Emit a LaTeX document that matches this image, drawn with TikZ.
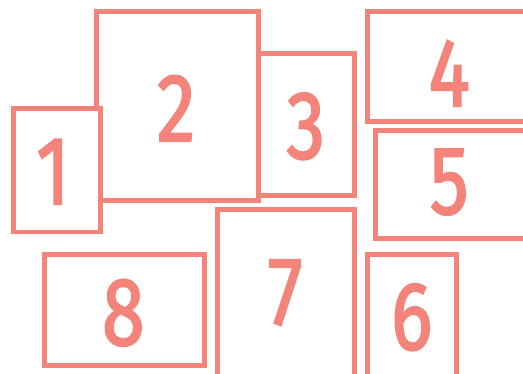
\documentclass[tikz,border=0pt]{standalone}
\usepackage{fontspec}
\setmainfont{Fira Sans}
\newfontfamily\digfont[FakeBold=2.2]{Fira Sans}
\definecolor{salmon}{RGB}{244,132,122}
\tikzset{
  boxst/.style={draw=salmon, fill=white, line width=4.8bp, inner sep=0pt, outer sep=0pt},
  digit/.style={text=salmon, inner sep=0pt, font=\digfont\fontsize{97}{97}\selectfont, xscale=0.8}
}
\begin{document}
\begin{tikzpicture}[x=1bp,y=-1bp]
\useasboundingbox (0,0) rectangle (523,373);
\draw[boxst] (258,53.8) rectangle (354.2,195.8) node[pos=0.5] (r3) {};
\draw[boxst] (96.8,11.7) rectangle (258.8,200.5) node[pos=0.5] (r2) {};
\draw[boxst] (13.5,108.5) rectangle (100.3,232) node[pos=0.5] (r1) {};
\draw[boxst] (367.5,11.7) rectangle (545,121.8) node[pos=0.5] (r4) {};
\draw[boxst] (375.8,130.5) rectangle (545,238.3) node[pos=0.5] (r5) {};
\draw[boxst] (367.5,254.8) rectangle (456.8,395) node[pos=0.5] (r6) {};
\draw[boxst] (217.5,209.8) rectangle (354.2,395) node[pos=0.5] (r7) {};
\draw[boxst] (44.8,254.8) rectangle (204.3,365.5) node[pos=0.5] (r8) {};
\node[digit] (d1) at (53,171.7) {1};
\node[digit] (d2) at (176.2,108.3) {2};
\node[digit] (d3) at (305.8,126.3) {3};
\node[digit] (d4) at (449.2,73.3) {4};
\node[digit] (d5) at (449.2,182.2) {5};
\node[digit] (d6) at (411.7,317.2) {6};
\node[digit] (d7) at (285.3,292.7) {7};
\node[digit] (d8) at (123.3,312.8) {8};
\end{tikzpicture}
\end{document}
